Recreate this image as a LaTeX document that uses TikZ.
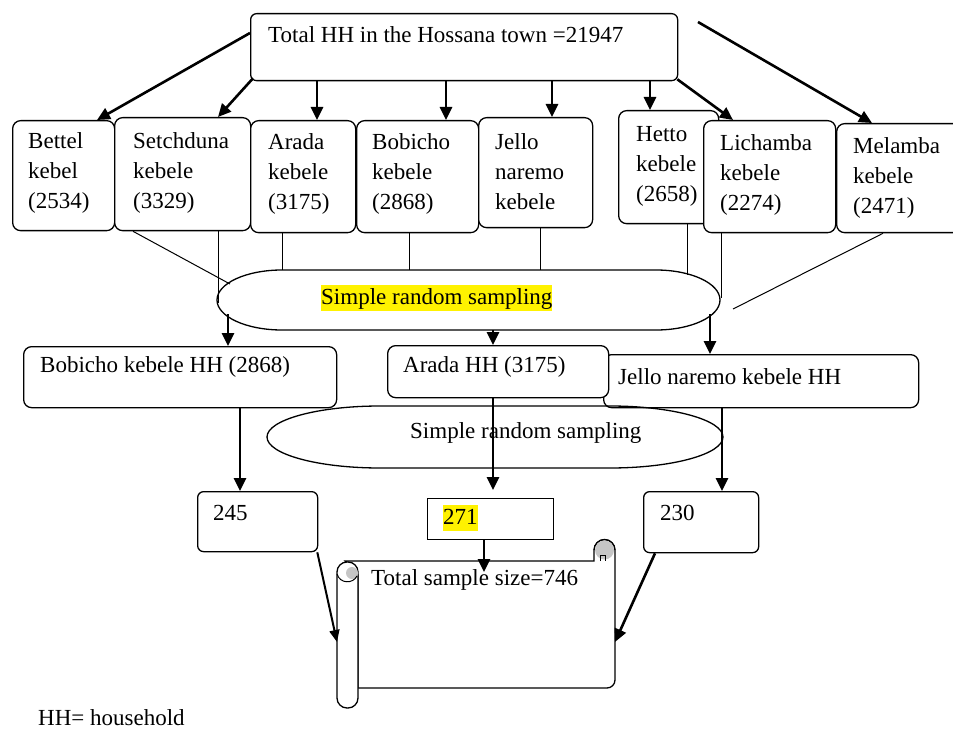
\documentclass[tikz,border=0pt]{standalone}
\usepackage{fontspec}
\setmainfont{Liberation Serif}
\usetikzlibrary{arrows.meta}
\begin{document}
\begin{tikzpicture}[x=1pt,y=-1pt, font=\fontsize{23}{30}\selectfont,
  box/.style={draw, line width=1.3pt, rounded corners=8pt, fill=white, inner sep=0pt, anchor=north west},
  txt/.style={anchor=west, inner sep=0pt, align=left},
  hl/.style={anchor=base west, inner sep=0pt, fill=yellow, text height=19pt, text depth=7pt},
  arr/.style={line width=2.6pt, -{Triangle[length=13pt,width=12pt]}},
  thinline/.style={line width=1pt},
  outl/.style={line width=1.3pt}]
\useasboundingbox (0,0) rectangle (953,730);
\fill[white] (0,0) rectangle (953,730);

% top box
\node[box, rounded corners=6pt, minimum width=427pt, minimum height=67pt] (top) at (250,13) {};
\node[txt] (ttop) at (268,35) {Total HH in the Hossana town =21947};

% kebele boxes
\node[box, minimum width=102pt, minimum height=110pt] (bettel) at (12,120) {};
\node[box, minimum width=136pt, minimum height=113pt] (setch) at (114,117) {};
\node[box, minimum width=105pt, minimum height=112pt] (arada) at (250,120) {};
\node[box, minimum width=122pt, minimum height=112pt] (bobicho) at (356,120) {};
\node[box, minimum width=114pt, minimum height=110pt] (jello) at (478,117) {};
\node[box, minimum width=100pt, minimum height=113pt] (hetto) at (618,110) {};
\node[box, minimum width=132pt, minimum height=112pt] (lich) at (703,120) {};
\node[box, minimum width=135pt, minimum height=109pt] (mel) at (836,123) {};

\node[txt] (tbettel) at (28,173) {Bettel\\kebel\\(2534)};
\node[txt] (tsetch) at (133,173) {Setchduna\\kebele\\(3329)};
\node[txt] (tarada) at (268,174) {Arada\\kebele\\(3175)};
\node[txt] (tbobicho) at (372,174) {Bobicho\\kebele\\(2868)};
\node[txt] (tjello) at (495,172) {Jello\\naremo\\kebele};
\node[txt] (thetto) at (636,166) {Hetto\\kebele\\(2658)};
\node[txt] (tlich) at (720,175) {Lichamba\\kebele\\(2274)};
\node[txt] (tmel) at (853,178) {Melamba\\kebele\\(2471)};

% arrows from top box
\coordinate (melstart) at (698,22);
\draw[arr] ([yshift=-20pt]top.north west) -- (97,0 |- bettel.north);
\draw[arr] ([xshift=3pt,yshift=3pt]top.south west) -- (218,0 |- setch.north);
\draw[arr] (317,0 |- top.south) -- (317,0 |- arada.north);
\draw[arr] (446,0 |- top.south) -- (446,0 |- bobicho.north);
\draw[arr] (552,0 |- top.south) -- (552,0 |- jello.north);
\draw[arr] (650,0 |- top.south) -- (650,0 |- hetto.north);
\draw[arr] ([xshift=-1pt,yshift=2pt]top.south east) -- (733,0 |- lich.north);
\draw[arr] (melstart) -- (872,0 |- mel.north);

% first sampling shape
\coordinate (e1tl) at (282,270);
\coordinate (e1bl) at (282,330);
\draw[thinline] (133,0 |- setch.south) -- (230,284);
\draw[thinline] (218,0 |- setch.south) -- (218,303);
\draw[thinline] (282,0 |- arada.south) -- (e1tl);
\draw[thinline] (409,0 |- bobicho.south) -- (409,270);
\draw[thinline] (540,0 |- jello.south) -- (540,270);
\draw[thinline] (687,0 |- hetto.south) -- (687,275);
\draw[thinline] (721,0 |- lich.south) -- (721,298);
\draw[thinline] (883,0 |- mel.south) -- (733,309);
\draw[outl] (e1tl) -- (656,270) arc[start angle=90, end angle=-90, x radius=64pt, y radius=30pt]
  -- (e1bl) arc[start angle=270, end angle=90, x radius=65pt, y radius=30pt] -- cycle;
\node[hl] (srs1) at (321,304) {Simple random sampling};

% middle boxes
\node[box, minimum width=313pt, minimum height=61pt] (bobhh) at (23,346) {};
\node[txt] (tbobhh) at (40,367) {Bobicho kebele HH (2868)};
\node[box, minimum width=315pt, minimum height=53pt] (jellohh) at (603,354) {};
\node[txt] (tjellohh) at (618,377) {Jello naremo kebele HH};
\node[box, minimum width=221pt, minimum height=52pt] (aradahh) at (387,345) {};
\node[txt] (taradahh) at (403,367) {Arada HH (3175)};

\draw[arr] (228,314) -- (228,0 |- bobhh.north);
\draw[arr] (493,330) -- (493,0 |- aradahh.north);
\draw[arr] (710,314) -- (710,0 |- jellohh.north);

% second sampling shape
\draw[outl] (380,406) -- (610,406) arc[start angle=90, end angle=-90, x radius=113pt, y radius=31pt]
  -- (380,468) arc[start angle=270, end angle=90, x radius=113pt, y radius=31pt] -- cycle;
\node[txt] (srs2) at (410,433) {Simple random sampling};

% bottom boxes
\node[box, rounded corners=6pt, minimum width=120pt, minimum height=60pt] (n245) at (197,491) {};
\node[txt] (t245) at (213,513) {245};
\node[box, rounded corners=0pt, minimum width=126pt, minimum height=41pt] (n271) at (427,498) {};
\node[hl] (t271) at (443,524) {271};
\node[box, rounded corners=6pt, minimum width=115pt, minimum height=61pt] (n230) at (643,491) {};
\node[txt] (t230) at (660,513) {230};

\draw[arr] (240,0 |- bobhh.south) -- (240,0 |- n245.north);
\draw[arr, shorten >=8pt] (493,0 |- aradahh.south) -- (493,0 |- n271.north);
\draw[arr] (722,0 |- jellohh.south) -- (722,0 |- n230.north);

% scroll
\draw[outl, fill=white] (345,561) -- (594,561) -- (594,550) arc[start angle=180, end angle=0, radius=10.5pt]
  -- (615,680) arc[start angle=0, end angle=-90, radius=8pt] -- (358,688) -- (358,575) -- cycle;
\fill[gray!45] (604.5,550) circle[radius=9.5pt];
\draw[line width=1pt] (594,550) arc[start angle=180, end angle=0, radius=10.5pt];
\draw[line width=0.8pt] (600,561) -- (600,555) -- (605,555) -- (605,561);
\draw[outl, fill=white, rounded corners=10pt] (337,708) -- (337,562) -- (358,562) -- (358,708) -- cycle;
\fill[gray!45] (352,573) circle[radius=6pt];
\draw[line width=1pt] (337,574) .. controls (340,584) and (353,584) .. (357,576);
\node[txt] (tscroll) at (371,580) {Total sample size=746};
\coordinate (scrollL) at (337,642);
\coordinate (scrollR) at (615,642);

\draw[line width=2pt, -{Triangle[length=12pt,width=10pt]}] ([xshift=-1pt]n245.south east) -- (scrollL);
\draw[arr] (484,0 |- n271.south) -- (484,572);
\draw[arr] ([xshift=12pt]n230.south west) -- (scrollR);

\node[txt] (legend) at (38,718) {HH= household};
\end{tikzpicture}
\end{document}
